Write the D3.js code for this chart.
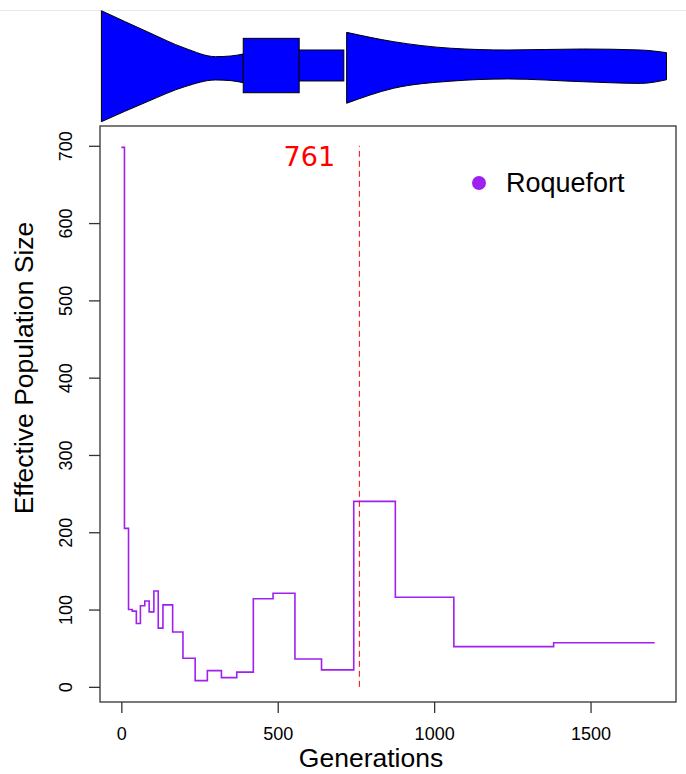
<!DOCTYPE html>
<html>
<head>
<meta charset="utf-8">
<script src="https://cdn.jsdelivr.net/npm/d3@7/dist/d3.min.js"></script>
<style>
  body { margin: 0; background: #fff; }
  svg { display: block; }
  text { font-family: "Liberation Sans", Arial, Helvetica, sans-serif; }
</style>
</head>
<body>
<svg id="chart" width="686" height="774"></svg>
<script>
// Step-wise effective population size through time (generations ago)
const generations = [0, 10, 23, 35, 48, 61, 75, 89, 104, 118, 133, 164, 197, 236, 275, 320, 369, 422, 485, 555, 640, 743, 876, 1063, 1382, 1705];
const effectiveSize = [698, 205, 100, 98, 82, 105, 111, 97, 124, 76, 106, 71, 37, 8, 21, 12, 19, 114, 121, 36, 22, 240, 116, 52, 57];
const xTicks = [0, 500, 1000, 1500];
const yTicks = [0, 100, 200, 300, 400, 500, 600, 700];
const seriesName = "Roquefort";
const splitGeneration = 761;

// Demographic sketch above the plot: position along (0-100), upper edge, lower edge (±50)
const sketchFront = [[0, 50, -50], [8.1, 31.1, -32], [14.8, 16.2, -18.4], [20.2, 8.6, -12.4], [22.9, 9.2, -13], [25.1, 11, -14.9]];
const sketchBlocks = [[25.1, 35.0, 25.1, -23.9], [35.0, 42.9, 14.6, -13.3]];
const sketchBack = [[43.4, 30.5, -33.4], [51.7, 22.1, -19.9], [61.8, 16.2, -13.5], [71.9, 14.6, -11.5], [85.3, 15.5, -14], [95.4, 14.6, -15.5], [100, 12.2, -12.2]];

const svg = d3.select("#chart");
const lineColor = "#A020F0";

// R-style 4% padding of the data range
const pad = ([a, b]) => [a - 0.04 * (b - a), b + 0.04 * (b - a)];

const x = d3.scaleLinear().domain(pad(d3.extent(generations))).range([100, 676]);
const y = d3.scaleLinear().domain(pad(d3.extent(effectiveSize))).range([702, 126]);

// thin rule at the very top
svg.append("line")
  .attr("x1", 0).attr("x2", 686).attr("y1", 10.5).attr("y2", 10.5)
  .attr("stroke", "#e8e8e8").attr("stroke-width", 1);

// ---- demographic sketch ----
const sx = d3.scaleLinear().domain([0, 100]).range([101.4, 666.5]);
const sy = d3.scaleLinear().domain([-50, 50]).range([121.7, 10.7]);
const sketchArea = d3.area()
  .x(d => sx(d[0])).y0(d => sy(d[2])).y1(d => sy(d[1]))
  .curve(d3.curveMonotoneX);
const sketch = svg.append("g");
[sketchFront, sketchBack].forEach(part => {
  sketch.append("path").attr("d", sketchArea(part) + "Z")
    .attr("fill", "#0000FF").attr("stroke", "#000").attr("stroke-width", 1);
});
sketchBlocks.forEach(([a, b, top, bottom]) => {
  sketch.append("rect")
    .attr("x", sx(a)).attr("width", sx(b) - sx(a))
    .attr("y", sy(top)).attr("height", sy(bottom) - sy(top))
    .attr("fill", "#0000FF").attr("stroke", "#000").attr("stroke-width", 1);
});

// ---- step line ----
const stepPoints = effectiveSize.map((v, i) => [generations[i], v]);
stepPoints.push([generations[generations.length - 1], effectiveSize[effectiveSize.length - 1]]);
svg.append("path")
  .attr("d", d3.line().x(d => x(d[0])).y(d => y(d[1])).curve(d3.curveStepAfter)(stepPoints))
  .attr("fill", "none").attr("stroke", lineColor).attr("stroke-width", 1.6);

// ---- split marker ----
svg.append("line")
  .attr("x1", x(splitGeneration)).attr("x2", x(splitGeneration))
  .attr("y1", y(0)).attr("y2", y(700))
  .attr("stroke", "#FF0000").attr("stroke-width", 1).attr("stroke-dasharray", "6,4");
svg.append("text")
  .attr("x", x(splitGeneration) - 50).attr("y", 166)
  .attr("text-anchor", "middle")
  .style("font-family", "'DejaVu Sans', sans-serif").style("font-size", "27px")
  .attr("fill", "#FF0000").text(splitGeneration);

// ---- plot frame ----
svg.append("rect")
  .attr("x", 100).attr("y", 126).attr("width", 576).attr("height", 576)
  .attr("fill", "none").attr("stroke", "#333").attr("stroke-width", 1.3);

// ---- x axis ----
const xAxis = svg.append("g").attr("transform", "translate(0,702)")
  .call(d3.axisBottom(x).tickValues(xTicks).tickFormat(d3.format("d"))
    .tickSize(11).tickSizeOuter(0).tickPadding(14));
xAxis.select(".domain").remove();
xAxis.selectAll(".tick line").attr("stroke", "#333").attr("stroke-width", 1.3);
xAxis.selectAll(".tick text").style("font-size", "18px").attr("fill", "#000")
  .style("font-family", "'Liberation Sans', Arial, sans-serif");

// ---- y axis ----
const yAxis = svg.append("g").attr("transform", "translate(100,0)")
  .call(d3.axisLeft(y).tickValues(yTicks).tickSize(11).tickSizeOuter(0));
yAxis.select(".domain").remove();
yAxis.selectAll(".tick line").attr("stroke", "#333").attr("stroke-width", 1.3);
yAxis.selectAll(".tick text").remove();
yAxis.selectAll(".tick").append("text")
  .attr("transform", "translate(-28,0) rotate(-90)")
  .attr("text-anchor", "middle").attr("fill", "#000")
  .style("font-size", "18px")
  .style("font-family", "'Liberation Sans', Arial, sans-serif")
  .text(d => d);

// ---- axis titles ----
svg.append("text")
  .attr("x", 371).attr("y", 767).attr("text-anchor", "middle")
  .style("font-size", "26.5px").text("Generations");
svg.append("text")
  .attr("transform", "translate(33,368) rotate(-90)").attr("text-anchor", "middle")
  .style("font-size", "26.5px").text("Effective Population Size");

// ---- legend ----
const legend = svg.append("g");
legend.append("circle").attr("cx", 479).attr("cy", 183).attr("r", 7).attr("fill", lineColor);
legend.append("text").attr("x", 506).attr("y", 192)
  .style("font-size", "27px").text(seriesName);
</script>
</body>
</html>
